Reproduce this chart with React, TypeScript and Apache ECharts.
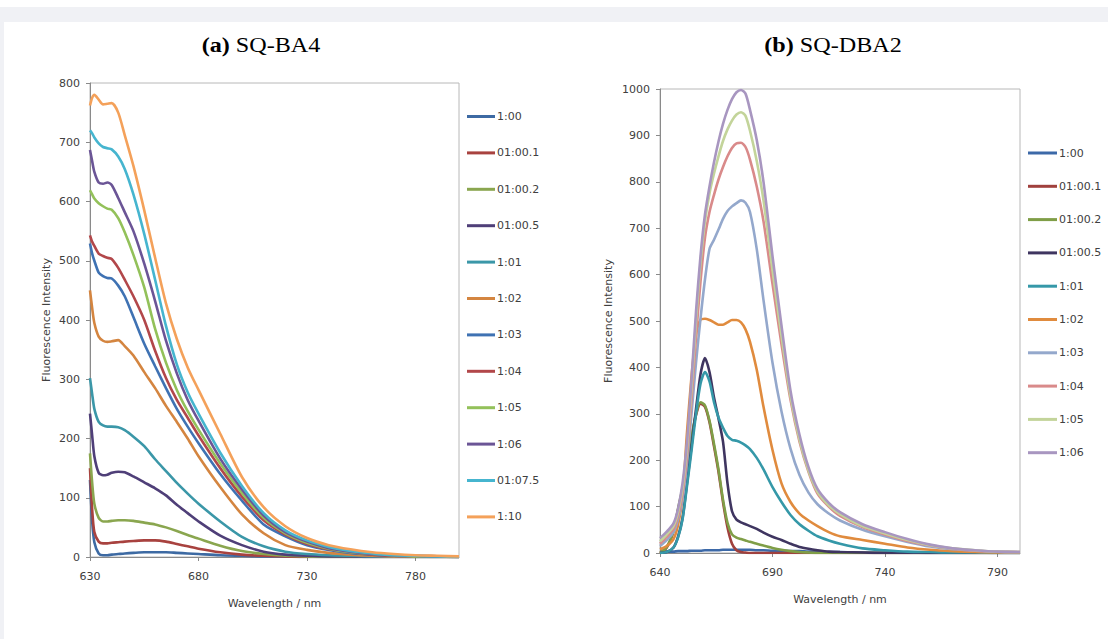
import React, { useEffect, useRef } from "react";
import * as echarts from "echarts";

// ---------- Panel (a) SQ-BA4 ----------
const wlA = [630, 631, 632, 634, 636, 638, 640, 643, 646, 650, 655, 660, 665, 670, 675, 680, 690, 700, 710, 720, 730, 740, 750, 760, 770, 780, 790, 800];
const namesA = ["1:00", "01:00.1", "01:00.2", "01:00.5", "1:01", "1:02", "1:03", "1:04", "1:05", "1:06", "01:07.5", "1:10"];
const colorsA = ["#3d6aa3", "#a8423f", "#8aa64f", "#4f3f78", "#3b97a8", "#d48540", "#3f72b3", "#b2474a", "#93c15a", "#6b5596", "#46b5cf", "#f4a15a"];
const a_100 = [130, 60, 25, 6, 3, 3, 4, 5, 6, 7, 8, 8, 8, 7, 6, 5, 3, 2, 1, 1, 0, 0, 0, 0, 0, 0, 0, 0];
const a_1001 = [150, 80, 42, 26, 23, 23, 24, 25, 26, 27, 28, 28, 26, 22, 18, 14, 8, 4, 2, 1, 0, 0, 0, 0, 0, 0, 0, 0];
const a_1002 = [175, 125, 90, 66, 60, 60, 61, 62, 62, 61, 58, 55, 50, 44, 37, 31, 19, 10, 5, 2, 1, 0, 0, 0, 0, 0, 0, 0];
const a_1005 = [242, 205, 170, 142, 138, 139, 142, 144, 143, 136, 126, 116, 104, 88, 74, 60, 36, 20, 9, 4, 2, 1, 1, 0, 0, 0, 0, 0];
const a_101 = [302, 275, 250, 228, 222, 220, 220, 219, 214, 203, 187, 165, 145, 125, 107, 90, 60, 34, 18, 9, 5, 3, 2, 1, 1, 0, 0, 0];
const a_102 = [450, 420, 395, 372, 365, 363, 364, 366, 356, 340, 312, 285, 255, 228, 200, 170, 118, 72, 40, 20, 12, 7, 4, 2, 1, 1, 0, 0];
const a_103 = [529, 512, 500, 480, 474, 471, 470, 458, 440, 405, 360, 322, 285, 250, 220, 192, 140, 95, 55, 35, 20, 12, 7, 4, 2, 1, 1, 0];
const a_104 = [543, 532, 525, 512, 508, 505, 503, 488, 468, 440, 400, 348, 302, 265, 235, 205, 150, 102, 62, 38, 22, 13, 8, 4, 2, 1, 1, 0];
const a_105 = [619, 612, 605, 597, 592, 588, 586, 572, 548, 510, 455, 385, 328, 282, 246, 215, 158, 108, 66, 40, 24, 14, 8, 5, 3, 1, 1, 0];
const a_106 = [687, 668, 650, 632, 630, 632, 628, 606, 582, 550, 495, 432, 365, 310, 265, 230, 166, 114, 70, 42, 26, 15, 9, 5, 3, 2, 1, 0];
const a_1075 = [720, 715, 708, 698, 692, 690, 688, 676, 655, 612, 545, 468, 390, 325, 278, 242, 176, 120, 74, 45, 28, 17, 10, 6, 3, 2, 1, 0];
const a_110 = [762, 775, 780, 772, 764, 765, 766, 750, 712, 660, 585, 505, 428, 368, 320, 282, 208, 135, 84, 52, 32, 20, 13, 8, 5, 3, 2, 1];
const valuesA = [a_100, a_1001, a_1002, a_1005, a_101, a_102, a_103, a_104, a_105, a_106, a_1075, a_110];
const xTicksA = [630, 680, 730, 780];

// ---------- Panel (b) SQ-DBA2 ----------
const wlB = [640, 643, 646, 648, 650, 652, 654, 656, 658, 660, 662, 664, 666, 668, 670, 672, 674, 676, 678, 680, 683, 686, 690, 694, 698, 702, 706, 710, 715, 720, 730, 740, 750, 760, 770, 780, 790, 800];
const namesB = ["1:00", "01:00.1", "01:00.2", "01:00.5", "1:01", "1:02", "1:03", "1:04", "1:05", "1:06"];
const colorsB = ["#3c69a8", "#a0403d", "#7f9e47", "#3f3560", "#3598a8", "#e08b3e", "#94a8cc", "#d98a8a", "#c3d49a", "#a896c0"];
const b_100 = [2, 3, 3, 4, 4, 4, 5, 5, 5, 6, 6, 6, 6, 7, 7, 7, 7, 7, 7, 7, 6, 6, 5, 5, 4, 4, 3, 3, 2, 2, 1, 1, 1, 0, 0, 0, 0, 0];
const b_1001 = [0, 12, 46, 92, 137, 190, 247, 297, 322, 315, 282, 230, 175, 110, 55, 20, 6, 2, 1, 0, 0, 0, 0, 0, 0, 0, 0, 0, 0, 0, 0, 0, 0, 0, 0, 0, 0, 0];
const b_1002 = [0, 13, 48, 95, 140, 193, 250, 300, 325, 318, 285, 235, 180, 115, 65, 40, 33, 30, 27, 24, 20, 16, 11, 7, 4, 2, 1, 0, 0, 0, 0, 0, 0, 0, 0, 0, 0, 0];
const b_1005 = [0, 2, 12, 35, 75, 150, 230, 310, 385, 420, 390, 335, 290, 240, 150, 90, 72, 66, 62, 58, 52, 44, 35, 28, 20, 13, 9, 6, 3, 2, 1, 0, 0, 0, 0, 0, 0, 0];
const b_101 = [0, 2, 12, 33, 72, 145, 220, 300, 365, 390, 370, 325, 292, 270, 252, 244, 242, 238, 232, 224, 205, 180, 142, 110, 82, 62, 48, 36, 27, 20, 10, 6, 3, 2, 1, 1, 0, 0];
const b_102 = [8, 15, 30, 60, 120, 260, 380, 470, 503, 505, 502, 497, 492, 492, 497, 502, 502, 497, 482, 455, 395, 315, 222, 150, 110, 85, 70, 58, 45, 36, 28, 20, 12, 7, 4, 2, 1, 1];
const b_103 = [15, 28, 45, 72, 118, 195, 300, 410, 505, 590, 655, 675, 697, 720, 737, 747, 754, 760, 755, 735, 655, 545, 410, 305, 225, 168, 130, 105, 85, 70, 50, 36, 24, 14, 8, 5, 3, 2];
const b_104 = [20, 35, 52, 80, 128, 210, 330, 465, 585, 680, 735, 772, 805, 832, 855, 873, 883, 884, 875, 848, 790, 715, 580, 450, 330, 240, 175, 128, 100, 80, 56, 40, 26, 16, 9, 5, 3, 2];
const b_105 = [25, 40, 58, 88, 140, 228, 355, 500, 625, 715, 775, 818, 855, 888, 913, 932, 945, 950, 942, 910, 845, 760, 610, 468, 338, 245, 178, 132, 103, 84, 58, 42, 28, 17, 10, 6, 3, 2];
const b_106 = [32, 46, 64, 95, 150, 240, 373, 520, 640, 730, 790, 842, 887, 925, 955, 978, 993, 998, 990, 955, 890, 800, 640, 490, 350, 255, 185, 138, 108, 88, 62, 45, 30, 18, 10, 6, 3, 2];
const valuesB = [b_100, b_1001, b_1002, b_1005, b_101, b_102, b_103, b_104, b_105, b_106];
const xTicksB = [640, 690, 740, 790];

const SANS = "'DejaVu Sans', 'Liberation Sans', sans-serif";
const SERIF = "'Liberation Serif', 'Times New Roman', serif";
const LABEL = "#404040";
const AXIS = "#8a8a8a";
const PREFIX_B = "b ";

function xAxis(gridIndex: number, min: number, ticks: number[]) {
  return {
    type: "value",
    gridIndex,
    min,
    max: 800,
    name: "Wavelength / nm",
    nameLocation: "middle",
    nameGap: 41,
    nameTextStyle: { fontFamily: SANS, fontSize: 11, color: LABEL },
    axisLine: { show: true, onZero: false, lineStyle: { color: AXIS, width: 1 } },
    axisTick: { show: true, length: 4, customValues: ticks, lineStyle: { color: AXIS } },
    axisLabel: { customValues: ticks, margin: 14, fontFamily: SANS, fontSize: 11, color: LABEL },
    splitLine: { show: false },
  };
}

function yAxis(gridIndex: number, max: number, nameGap: number) {
  return {
    type: "value",
    gridIndex,
    min: 0,
    max,
    interval: 100,
    name: "Fluorescence Intensity",
    nameLocation: "middle",
    nameGap,
    nameRotate: 90,
    nameTextStyle: { fontFamily: SANS, fontSize: 11, color: LABEL },
    axisLine: { show: true, lineStyle: { color: AXIS, width: 1 } },
    axisTick: { show: true, length: 4, lineStyle: { color: AXIS } },
    axisLabel: { margin: 10, fontFamily: SANS, fontSize: 11, color: LABEL, formatter: (v: number) => String(v) },
    splitLine: { show: false },
  };
}

function buildSeries(names: string[], colors: string[], values: number[][], wl: number[], idx: number, prefix: string) {
  return names.map((n, i) => ({
    type: "line",
    name: prefix + n,
    xAxisIndex: idx,
    yAxisIndex: idx,
    data: wl.map((x, j) => [x, values[i][j]]),
    symbol: "none",
    smooth: 0.25,
    clip: true,
    color: colors[i],
    lineStyle: { color: colors[i], width: 2.6 },
  }));
}

function legend(left: number, top: number, width: number, gap: number, data: string[], formatter?: (n: string) => string) {
  return {
    orient: "vertical",
    left,
    top,
    padding: 0,
    icon: "rect",
    itemWidth: width,
    itemHeight: 3,
    itemGap: gap,
    data,
    formatter,
    textStyle: { fontFamily: SANS, fontSize: 11, color: LABEL, padding: [0, 0, 0, -3] },
    selectedMode: false,
  };
}

function title(x: number, label: string, rest: string) {
  return {
    type: "text",
    x,
    y: 45,
    scaleX: 1.15,
    style: {
      text: "{b|" + label + "} " + rest,
      align: "center",
      verticalAlign: "middle",
      font: "21px " + SERIF,
      fill: "#000",
      rich: { b: { fontWeight: "bold", fontSize: 21, fontFamily: SERIF } },
    },
  };
}

export default function App() {
  const ref = useRef<HTMLDivElement>(null);
  useEffect(() => {
    if (!ref.current) return;
    const chart = echarts.init(ref.current, null, { renderer: "svg" });
    const option = {
      animation: false,
      backgroundColor: "#ffffff",
      graphic: [
        { type: "rect", shape: { x: 0, y: 7, width: 1108, height: 15 }, style: { fill: "#f0f1f5" }, silent: true, z: -10 },
        { type: "rect", shape: { x: 0, y: 7, width: 4, height: 632 }, style: { fill: "#f0f1f5" }, silent: true, z: -10 },
        title(261, "(a)", "SQ-BA4"),
        title(833, "(b)", "SQ-DBA2"),
      ],
      grid: [
        { left: 90, top: 83, width: 369, height: 474, show: true, borderColor: "#b8b8b8", borderWidth: 1, backgroundColor: "transparent" },
        { left: 660, top: 89, width: 360, height: 464, show: true, borderColor: "#b8b8b8", borderWidth: 1, backgroundColor: "transparent" },
      ],
      xAxis: [xAxis(0, 630, xTicksA), xAxis(1, 640, xTicksB)],
      yAxis: [yAxis(0, 800, 38), yAxis(1, 1000, 46)],
      legend: [
        legend(467, 111, 28, 25.4, namesA),
        legend(1028, 147.5, 29, 22.3, namesB.map((n) => PREFIX_B + n), (name: string) => name.slice(PREFIX_B.length)),
      ],
      series: [
        ...buildSeries(namesA, colorsA, valuesA, wlA, 0, ""),
        ...buildSeries(namesB, colorsB, valuesB, wlB, 1, PREFIX_B),
      ],
    };
    chart.setOption(option as any);
    return () => chart.dispose();
  }, []);
  return <div ref={ref} style={{ position: "fixed", left: 0, top: 0, width: 1108, height: 639 }} />;
}
